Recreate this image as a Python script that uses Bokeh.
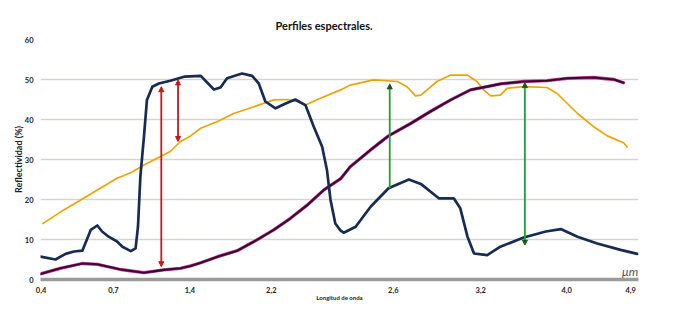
from bokeh.plotting import figure
from bokeh.models import Arrow, NormalHead, Label, FixedTicker, Range1d
from bokeh.embed import file_html
from bokeh.resources import INLINE

# Axis positions (relative position along the axis, 0..100) and their wavelength labels
tick_pos = [0.1, 12.2, 25.0, 38.6, 59.0, 73.6, 88.0, 98.7]
tick_labels = ["0,4", "0,7", "1,4", "2,2", "2,6", "3,2", "4,0", "4,9"]
y_ticks = [0, 10, 20, 30, 40, 50, 60]

# Dark blue profile
navy_x = [0.0, 2.5, 4.2, 5.6, 7.0, 8.4, 9.5, 10.3, 11.4, 12.8, 13.7, 15.1, 15.9, 16.3, 16.7,
          17.3, 17.8, 18.7, 19.8, 21.7, 24.0, 26.8, 29.0, 30.1, 31.2, 33.7, 35.4, 36.5, 37.6,
          39.3, 41.0, 42.6, 44.3, 45.7, 47.1, 47.9, 48.5, 49.3, 50.2, 50.7, 52.7, 55.2, 58.2,
          61.6, 63.6, 66.6, 69.1, 70.2, 71.4, 72.5, 74.7, 76.9, 80.8, 84.5, 87.0, 89.8, 93.1,
          97.0, 99.8]
navy_y = [5.7, 5.0, 6.4, 7.0, 7.2, 12.4, 13.5, 12.0, 10.7, 9.5, 8.2, 7.1, 7.8, 13.2, 25.7,
          35.7, 44.9, 48.2, 49.0, 49.7, 50.7, 50.9, 47.5, 48.0, 50.3, 51.5, 50.9, 49.0, 44.5,
          42.8, 44.0, 45.0, 43.6, 38.2, 33.2, 27.4, 19.9, 14.0, 12.2, 11.7, 13.2, 18.2, 22.8,
          25.0, 23.9, 20.3, 20.3, 17.8, 10.7, 6.5, 6.1, 8.2, 10.5, 12.0, 12.6, 10.7, 9.0,
          7.4, 6.4]

# Orange profile
orange_x = [0.3, 3.9, 7.2, 10.0, 12.8, 15.1, 17.3, 19.5, 21.7, 23.4, 25.1, 26.8, 29.6, 32.3,
            35.7, 39.0, 41.3, 42.9, 44.3, 46.8, 50.2, 51.8, 55.7, 59.7, 61.3, 62.7, 63.6,
            66.3, 68.6, 71.4, 73.0, 74.1, 75.3, 76.9, 78.0, 80.8, 84.7, 86.4, 89.8, 92.5,
            94.8, 97.5, 98.2]
orange_y = [13.9, 17.4, 20.3, 22.8, 25.3, 26.7, 28.6, 30.3, 32.0, 34.5, 35.9, 37.8, 39.5,
            41.5, 43.2, 44.9, 45.0, 44.5, 43.6, 45.3, 47.4, 48.6, 49.9, 49.5, 48.2, 45.9,
            46.1, 49.5, 51.1, 51.1, 49.5, 47.4, 45.9, 46.1, 47.8, 48.2, 48.0, 46.5, 41.5,
            38.2, 35.9, 34.2, 33.0]

# Purple profile
purple_x = [0.0, 3.3, 7.0, 9.5, 13.4, 17.3, 20.6, 23.4, 25.1, 26.8, 29.6, 32.9, 36.2, 39.0,
            41.8, 44.6, 47.4, 50.2, 51.8, 55.2, 58.2, 61.9, 65.2, 68.6, 71.9, 75.3, 76.9,
            80.8, 84.7, 88.1, 92.5, 95.9, 97.5]
purple_y = [1.4, 2.8, 4.0, 3.8, 2.5, 1.7, 2.4, 2.8, 3.4, 4.2, 5.7, 7.2, 9.9, 12.4, 15.3,
            18.6, 22.4, 25.2, 28.2, 32.4, 35.9, 39.0, 42.0, 44.9, 47.4, 48.4, 48.9, 49.5,
            49.7, 50.3, 50.5, 50.0, 49.2]

# Arrows: position, lower and upper reflectance
red_arrow_x = [20.2, 23.0]
red_arrow_low = [3.2, 34.5]
red_arrow_high = [48.2, 49.9]
green_arrow_x = [58.4, 81.0]
green_arrow_low = [22.8, 8.6]
green_arrow_high = [48.9, 49.2]

FONT = "Lato"

p = figure(width=657, height=303, output_backend="svg", toolbar_location=None,
           x_range=Range1d(0, 100), y_range=Range1d(0, 60),
           min_border_left=40, min_border_right=19, min_border_top=39, min_border_bottom=24,
           title="Perfiles espectrales.")
p.outline_line_color = None
p.background_fill_color = "white"
p.border_fill_color = "white"

p.title.text_font = FONT
p.title.text_font_size = "11px"
p.title.text_font_style = "bold"
p.title.text_color = "#111111"
p.title.align = "left"
p.title.offset = 235
p.title.standoff = 16

# grids
p.xgrid.visible = False
p.ygrid.ticker = FixedTicker(ticks=y_ticks[1:])
p.ygrid.grid_line_color = "#d6d6cc"
p.ygrid.grid_line_width = 1.5

# x axis
p.xaxis.ticker = FixedTicker(ticks=tick_pos)
p.xaxis.major_label_overrides = {t: l for t, l in zip(tick_pos, tick_labels)}
p.xaxis.axis_line_color = "#9a9a9a"
p.xaxis.axis_line_width = 3.5
p.xaxis.major_tick_line_color = None
p.xaxis.minor_tick_line_color = None
p.xaxis.major_tick_out = 0
p.xaxis.major_tick_in = 0
p.xaxis.major_label_text_font = FONT
p.xaxis.major_label_text_font_style = "bold"
p.xaxis.major_label_text_font_size = "7.5px"
p.xaxis.major_label_text_color = "#222222"
p.xaxis.major_label_standoff = 7
p.xaxis.axis_label = "Longitud de onda"
p.xaxis.axis_label_text_font = FONT
p.xaxis.axis_label_text_font_size = "6px"
p.xaxis.axis_label_text_font_style = "bold"
p.xaxis.axis_label_text_color = "#222222"
p.xaxis.axis_label_standoff = -2

# y axis
p.yaxis.ticker = FixedTicker(ticks=y_ticks)
p.yaxis.axis_line_color = None
p.yaxis.major_tick_line_color = None
p.yaxis.minor_tick_line_color = None
p.yaxis.major_tick_out = 0
p.yaxis.major_tick_in = 0
p.yaxis.major_label_text_font = FONT
p.yaxis.major_label_text_font_style = "bold"
p.yaxis.major_label_text_font_size = "7.5px"
p.yaxis.major_label_text_color = "#222222"
p.yaxis.major_label_standoff = 7
p.yaxis.axis_label = "Reflectividad (%)"
p.yaxis.axis_label_text_font = FONT
p.yaxis.axis_label_text_font_size = "9px"
p.yaxis.axis_label_text_font_style = "bold"
p.yaxis.axis_label_text_color = "#222222"
p.yaxis.axis_label_standoff = -2

# curves
p.line(orange_x, orange_y, line_color="#eba500", line_width=1.7, line_join="round")
p.line(purple_x, purple_y, line_color="#c8409c", line_width=3.3, line_join="round", line_cap="round")
p.line(purple_x, purple_y, line_color="#380a30", line_width=2.1, line_join="round", line_cap="round")
p.line(navy_x, navy_y, line_color="#172b55", line_width=2.7, line_join="round", line_cap="round")

# arrows
for x, lo, hi in zip(red_arrow_x, red_arrow_low, red_arrow_high):
    p.add_layout(Arrow(x_start=x, y_start=lo, x_end=x, y_end=hi,
                       line_color="#c8161a", line_width=1.8,
                       start=NormalHead(size=5, fill_color="#c8161a", line_color="#c8161a"),
                       end=NormalHead(size=5, fill_color="#c8161a", line_color="#c8161a")))
for i, (x, lo, hi) in enumerate(zip(green_arrow_x, green_arrow_low, green_arrow_high)):
    start_head = NormalHead(size=5, fill_color="#145a1c", line_color="#145a1c") if i == 1 else None
    p.add_layout(Arrow(x_start=x, y_start=lo, x_end=x, y_end=hi,
                       line_color="#1ea233", line_width=1.8,
                       start=start_head,
                       end=NormalHead(size=5, fill_color="#145a1c", line_color="#145a1c")))

# unit label
p.add_layout(Label(x=98.6, y=0.1, text="μm", text_font=FONT, text_font_style="italic",
                   text_font_size="12px", text_color="#555555", text_align="center",
                   text_baseline="bottom"))

open("out.html", "w").write(file_html(p, INLINE))
